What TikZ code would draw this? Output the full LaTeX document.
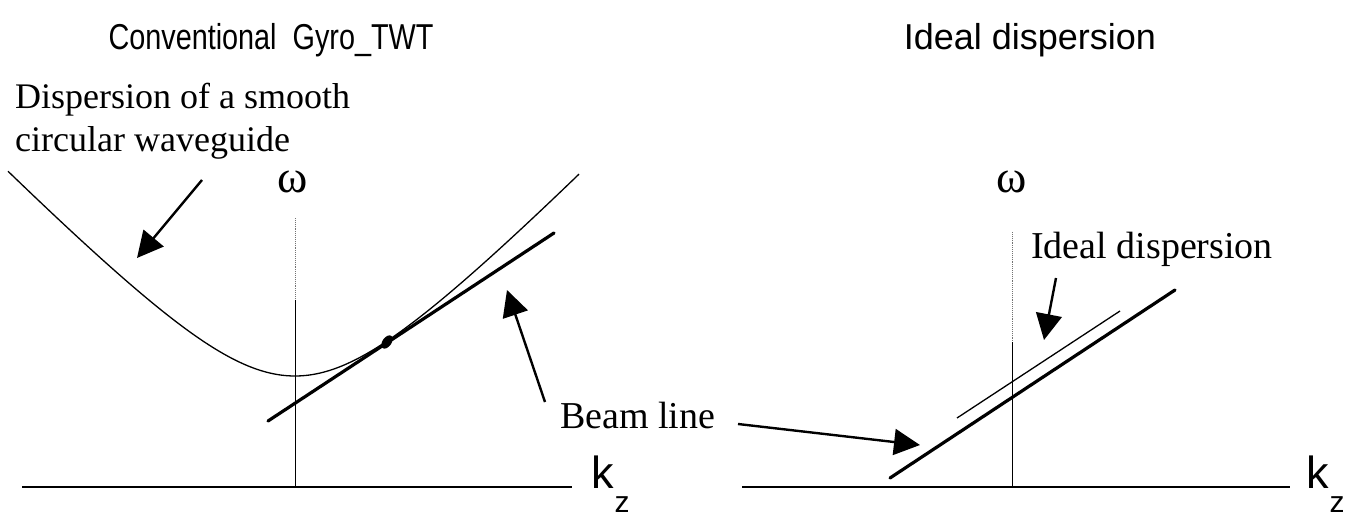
\documentclass[tikz,border=0pt]{standalone}
\usepackage{fontspec}
\setmainfont{Liberation Serif}
\newfontfamily\arialfont{Liberation Sans}
\usetikzlibrary{arrows.meta}
\begin{document}
\begin{tikzpicture}[x=1pt,y=-1pt,
  lbl/.style={font=\fontsize{38}{44}\selectfont, inner sep=0pt, anchor=base west},
  lblsm/.style={font=\fontsize{36}{42}\selectfont, inner sep=0pt, anchor=base west},
  ttl/.style={font=\arialfont\fontsize{36}{40}\selectfont, inner sep=0pt, anchor=base},
  kzlbl/.style={font=\arialfont\fontsize{45}{50}\selectfont, inner sep=0pt, anchor=base west},
  omg/.style={font=\fontsize{46}{50}\selectfont, inner sep=0pt, anchor=base},
  axisline/.style={line width=1.6pt},
  vaxis/.style={line width=0.9pt},
  vaxisfaint/.style={line width=0.9pt, black!55, densely dotted},
  pointer/.style={line width=2.4pt, -{Triangle[length=26pt,width=26pt]}},
  beam/.style={line width=3.2pt, line cap=round},
  disp/.style={line width=1.3pt}
]
\useasboundingbox (0,0) rectangle (1358,516);

% titles
\node[ttl] (t1) at (271,50) {\scalebox{0.8}[1]{Conventional\ \ Gyro\_TWT}};
\node[ttl] (t2) at (1030,50) {Ideal dispersion};

% ---------- left panel ----------
\coordinate (hl0) at (22,487);
\coordinate (hl1) at (572,487);
\draw[axisline] (hl0) -- (hl1);
\coordinate (vl0) at (295,218);
\coordinate (vlm) at (295,300);
\coordinate (vl1) at (295,487);
\draw[vaxisfaint] (vl0) -- (vlm);
\draw[vaxis] (vlm) -- (vl1);
\node[omg] (w1) at (293,193) {ω};
\node[kzlbl] (k1) at (591,488) {k\kern1pt\raisebox{-24pt}{\fontsize{30}{32}\selectfont z}};

% dispersion curve
\draw[disp] plot[domain=-287:284, samples=120, smooth]
  ({295+\x},{487-100*sqrt(1.2321+(0.0103*\x)^2)});

% beam line
\coordinate (b0) at (268,421);
\coordinate (b1) at (554,233);
\draw[beam] (b0) -- (b1);
\fill[rotate around={-35:(387,342)}] (387,342) ellipse (4.5pt and 7.5pt);

% labels
\node[lblsm] (dl1) at (15,109) {Dispersion of a smooth};
\node[lblsm] (dl2) at (15,152) {circular waveguide};
\node[lbl] (bl) at (560,428) {Beam line};

\coordinate (a1s) at (202,180);
\coordinate (a1e) at (137,258);
\draw[pointer] (a1s) -- (a1e);
\coordinate (a2s) at (545,402);
\coordinate (a2e) at (507,290);
\draw[pointer] (a2s) -- (a2e);
\coordinate (a3s) at (738,424);
\coordinate (a3e) at (920,445);
\draw[pointer] (a3s) -- (a3e);

% ---------- right panel ----------
\coordinate (hr0) at (742,487);
\coordinate (hr1) at (1290,487);
\draw[axisline] (hr0) -- (hr1);
\coordinate (vr0) at (1012,232);
\coordinate (vrm) at (1012,342);
\coordinate (vr1) at (1012,487);
\draw[vaxisfaint] (vr0) -- (vrm);
\draw[vaxis] (vrm) -- (vr1);
\node[omg] (w2) at (1012,193) {ω};
\node[kzlbl] (k2) at (1306,488) {k\kern1pt\raisebox{-24pt}{\fontsize{30}{32}\selectfont z}};

\coordinate (r0) at (890,478);
\coordinate (r1) at (1175,290);
\draw[beam] (r0) -- (r1);
\coordinate (i0) at (957,418);
\coordinate (i1) at (1120,311);
\draw[disp] (i0) -- (i1);

\node[lbl] (il) at (1031,258) {Ideal dispersion};
\coordinate (a4s) at (1056,278);
\coordinate (a4e) at (1044,340);
\draw[pointer] (a4s) -- (a4e);
\end{tikzpicture}
\end{document}
